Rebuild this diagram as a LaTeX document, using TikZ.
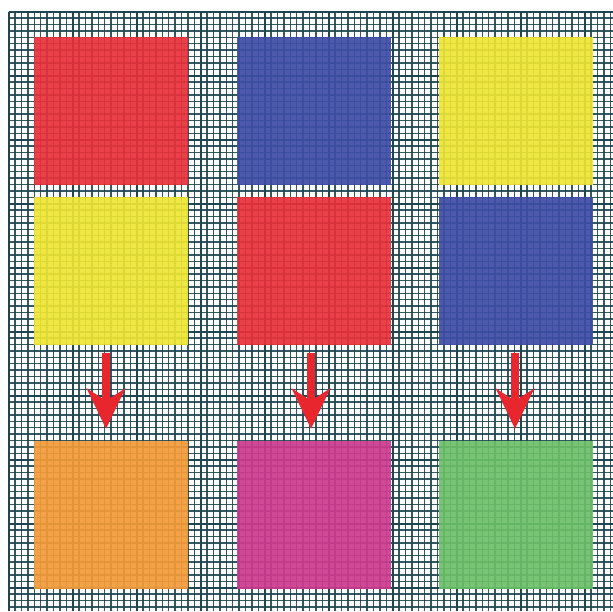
\documentclass[tikz,border=0pt]{standalone}
\usetikzlibrary{arrows.meta}
\definecolor{gridc}{HTML}{1F4650}
\definecolor{cred}{HTML}{E8303A}
\definecolor{cblue}{HTML}{3E4DA6}
\definecolor{cyellow}{HTML}{EEE533}
\definecolor{corange}{HTML}{F39B38}
\definecolor{cmag}{HTML}{CD3A8E}
\definecolor{cgreen}{HTML}{6CBF69}
\definecolor{carrow}{HTML}{E8262E}
\tikzset{
  fineline/.style={gridc, line width=1.4pt, opacity=0.9},
  majorline/.style={gridc, line width=2.2pt},
  sq/.style={draw=none, minimum width=154pt, minimum height=148pt, inner sep=0pt, fill opacity=0.92},
  arr/.style={carrow, line width=8pt, -{Stealth[length=40pt, width=38pt, inset=12pt]}}
}
\begin{document}
\begin{tikzpicture}[x=1pt,y=-1pt]
\useasboundingbox (0,0) rectangle (613,611);
\fill[white] (0,0) rectangle (613,611);
% fine grid
\foreach \i in {0,...,94} {
  \pgfmathsetmacro{\xx}{8.6+6.4*\i}
  \draw[fineline] (\xx,11.7) -- (\xx,611);
}
\foreach \i in {0,...,93} {
  \pgfmathsetmacro{\yy}{11.7+6.4*\i}
  \draw[fineline] (8.6,\yy) -- (613,\yy);
}
% major grid
\foreach \i in {0,...,9} {
  \pgfmathsetmacro{\xx}{8.6+64*\i}
  \draw[majorline] (\xx,11.7) -- (\xx,611);
  \pgfmathsetmacro{\yy}{11.7+64*\i}
  \draw[majorline] (8.6,\yy) -- (613,\yy);
}
% squares
\node[sq, fill=cred]    (a1) at (111,110.5) {};
\node[sq, fill=cblue]   (b1) at (314,110.5) {};
\node[sq, fill=cyellow] (c1) at (516,110.5) {};
\node[sq, fill=cyellow] (a2) at (111,270.5) {};
\node[sq, fill=cred]    (b2) at (314,270.5) {};
\node[sq, fill=cblue]   (c2) at (516,270.5) {};
\node[sq, fill=corange] (a3) at (111,515) {};
\node[sq, fill=cmag]    (b3) at (314,515) {};
\node[sq, fill=cgreen]  (c3) at (516,515) {};
% arrows
\foreach \s/\t/\dx in {a2/a3/-5, b2/b3/-3, c2/c3/-1} {
  \draw[arr] ([xshift=\dx pt, yshift=-8pt]\s.south) -- ([xshift=\dx pt, yshift=12pt]\t.north);
}
\end{tikzpicture}
\end{document}
